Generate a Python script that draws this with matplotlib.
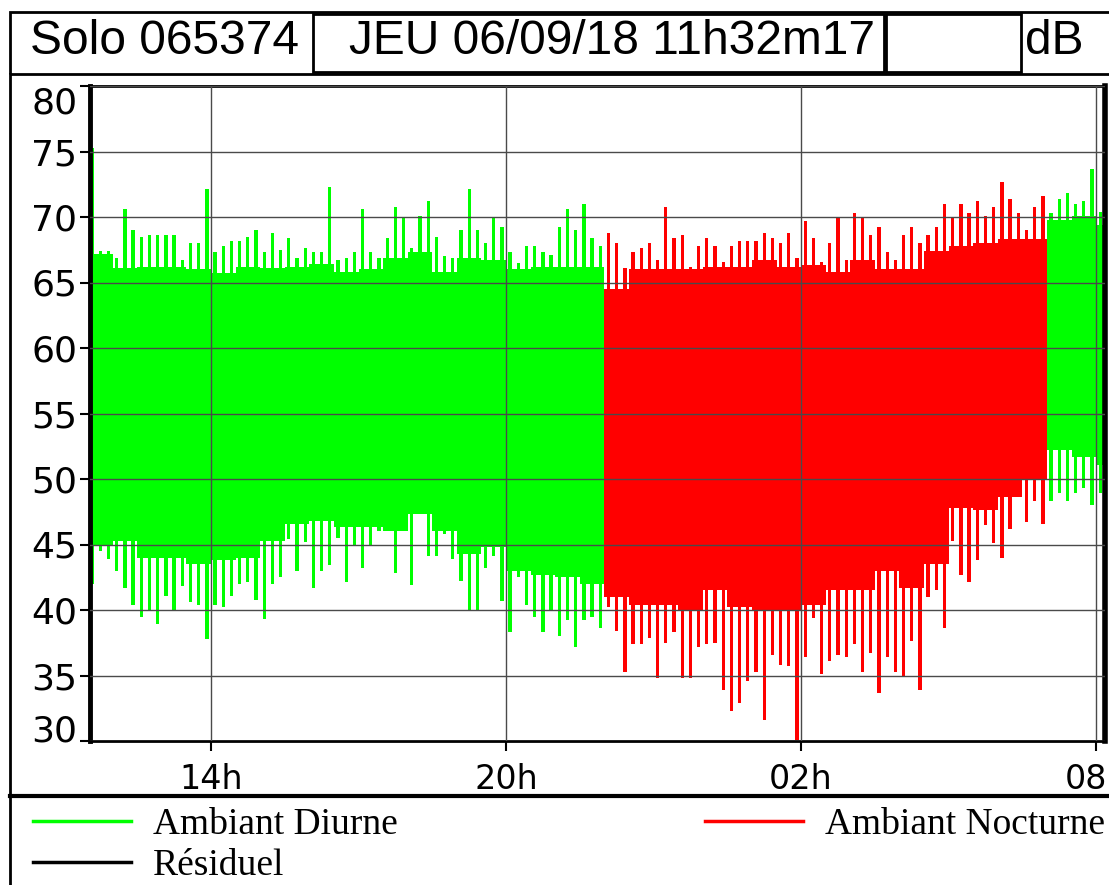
import numpy as np
import matplotlib
matplotlib.use('Agg')
from matplotlib import pyplot as plt
from matplotlib.patches import Rectangle
from matplotlib.lines import Line2D

W, H = 1109, 885

# extreme values (dB) in 10-minute bins starting 11h30
t_start = 11.5
step = 1 / 6
hi = [75.3, 67.4, 67.4, 66.9, 70.6, 69.0, 68.5, 68.6, 68.6, 68.6,
      68.6, 66.7, 68.0, 68.0, 72.1, 67.3, 67.8, 68.2, 68.2, 68.5,
      69.0, 67.3, 68.8, 67.5, 68.4, 66.9, 67.6, 67.3, 67.3, 72.3,
      66.7, 66.9, 67.3, 70.6, 67.3, 66.9, 68.4, 70.8, 70.0, 67.6,
      70.1, 71.2, 68.5, 67.0, 66.9, 69.0, 72.1, 69.0, 68.0, 69.9,
      69.2, 67.3, 66.5, 67.8, 67.8, 67.3, 67.1, 69.2, 70.6, 69.0,
      71.0, 68.4, 67.8, 68.8, 68.0, 66.1, 67.3, 67.6, 68.0, 66.7,
      70.8, 68.4, 68.6, 66.2, 67.8, 68.4, 67.8, 66.6, 67.8, 68.2,
      68.2, 68.2, 68.8, 68.4, 68.0, 68.8, 66.9, 69.7, 68.4, 66.6,
      68.0, 69.9, 66.7, 70.3, 69.9, 68.6, 69.2, 67.3, 66.7, 68.6,
      69.2, 68.0, 68.6, 69.2, 71.0, 69.9, 71.0, 70.3, 71.2, 70.1,
      70.8, 72.7, 71.4, 70.3, 69.0, 70.8, 71.6, 70.3, 71.4, 71.8,
      71.0, 71.2, 73.7, 70.4, 70.3]
lo = [42.0, 44.5, 43.9, 43.0, 41.7, 40.4, 39.5, 39.9, 38.9, 41.1,
      39.9, 41.8, 40.6, 40.4, 37.8, 40.4, 40.2, 41.1, 42.0, 42.1,
      40.8, 39.3, 42.0, 42.5, 45.4, 43.0, 45.2, 41.7, 43.0, 43.4,
      45.5, 42.1, 45.0, 43.2, 45.0, 46.0, 46.3, 42.8, 47.0, 41.9,
      47.5, 44.1, 44.1, 45.8, 43.9, 42.2, 40.0, 40.0, 43.2, 44.1,
      40.7, 38.3, 42.5, 40.4, 39.5, 38.3, 40.0, 38.0, 39.2, 37.2,
      39.2, 39.5, 38.6, 40.2, 38.4, 35.3, 37.4, 37.4, 37.9, 34.8,
      37.5, 38.3, 34.8, 34.8, 37.2, 37.4, 37.5, 33.9, 32.3, 32.9,
      34.6, 35.3, 31.6, 36.6, 35.8, 35.7, 30.1, 36.4, 39.4, 35.1,
      36.1, 36.6, 36.4, 37.4, 35.3, 36.7, 33.7, 36.4, 35.3, 34.9,
      37.6, 33.9, 41.0, 41.5, 38.6, 45.3, 42.7, 42.1, 43.8, 46.5,
      45.1, 44.0, 46.2, 49.1, 46.7, 48.3, 46.6, 48.3, 48.9, 48.3,
      48.9, 49.3, 48.0, 48.9, 50.0]

# usual range (dB) in 30-minute blocks starting 11h30
body_step = 0.5
body_hi = [67.2, 66.1, 66.2, 66.2, 66.0, 65.7, 66.2, 66.1, 66.2, 66.4,
           65.8, 66.0, 66.9, 67.3, 65.8, 66.9, 66.7, 66.0, 66.2, 66.2,
           66.2, 64.5, 66.0, 66.0, 66.0, 66.2, 66.2, 66.7, 66.2, 66.3,
           65.8, 66.7, 66.0, 66.0, 67.4, 67.8, 68.0, 68.3, 68.3, 69.8,
           70.1, 69.4]
body_lo = [45.0, 45.3, 44.0, 44.0, 43.5, 43.8, 44.0, 45.3, 46.6, 46.8,
           46.3, 46.3, 46.0, 47.3, 46.0, 44.3, 44.8, 43.0, 42.7, 42.5,
           42.0, 41.0, 40.4, 40.4, 39.9, 41.5, 40.2, 39.9, 39.9, 40.4,
           41.5, 41.5, 43.0, 41.7, 43.5, 47.8, 47.6, 48.6, 49.9, 52.2,
           51.7, 51.1]

night_start, night_end = 22.0, 31.0
x_ticks = [14, 20, 26, 32]
x_labels = ['14h', '20h', '02h', '08h']
y_ticks = list(range(30, 85, 5))

GREEN = '#00ff00'
RED = '#ff0000'


def fx(x):
    return x / W


def fy(y):
    return 1 - y / H


fig = plt.figure(figsize=(W / 100, H / 100), dpi=100)
ax = fig.add_axes([fx(90), fy(741), fx(1105) - fx(90), fy(86) - fy(741)])

# solid body of the record
b_edges = t_start + body_step * np.arange(len(body_hi) + 1)
bh = np.append(body_hi, body_hi[-1])
bl = np.append(body_lo, body_lo[-1])
j_n = int(round((night_start - t_start) / body_step))
j_e = int(round((night_end - t_start) / body_step))
for a, b, c in [(0, j_n, GREEN), (j_n, j_e, RED), (j_e, len(body_hi), GREEN)]:
    ax.fill_between(b_edges[a:b + 1], bl[a:b + 1], bh[a:b + 1],
                    step='post', color=c, lw=0)

# peaks and dips
centers = t_start + step * (np.arange(len(hi)) + 0.5)
hi = np.array(hi)
lo = np.array(lo)
night = (centers > night_start) & (centers < night_end)
colors = np.where(night, RED, GREEN)
ax.bar(centers, hi - lo, bottom=lo, width=step * 0.4, color=colors, lw=0)

ax.set_xlim(11.54, 32.18)
ax.set_ylim(30, 80)
ax.set_xticks(x_ticks, x_labels)
ax.set_yticks(y_ticks)
ax.set_axisbelow(False)
ax.grid(True, color='#4a4a4a', lw=1)
for s, w in [('left', 3.5), ('right', 4), ('top', 2), ('bottom', 2)]:
    ax.spines[s].set_linewidth(w)
ax.tick_params(axis='y', length=7, width=1.5, pad=2, labelsize=26)
ax.tick_params(axis='x', length=7, width=1.5, pad=9, labelsize=24)
for lab in ax.get_xticklabels() + ax.get_yticklabels():
    lab.set_family('DejaVu Sans')
ylabs = ax.get_yticklabels()
ylabs[0].set_va('baseline')
ylabs[-1].set_va('top')

# header boxes
tf = fig.transFigure
for (x0, y0, x1, y1) in [(10, 12, 1115, 74), (313, 14, 884, 72), (886, 14, 1021, 72)]:
    fig.patches.append(Rectangle((fx(x0), fy(y1)), fx(x1) - fx(x0), fy(y0) - fy(y1),
                                 fill=False, lw=2, ec='black', transform=tf))
head = dict(fontsize=34.5, family='Liberation Sans', va='center', ha='left')
fig.text(fx(30), fy(42), 'Solo 065374', **head)
fig.text(fx(349), fy(42), 'JEU 06/09/18 11h32m17', **head)
fig.text(fx(1025), fy(42), 'dB', **head)

# frame lines
fig.add_artist(Line2D([fx(10), fx(10)], [fy(74), 0], color='black', lw=2, transform=tf))
fig.add_artist(Line2D([fx(10), 1], [fy(796), fy(796)], color='black', lw=3, transform=tf))

handles = [Line2D([], [], color=GREEN, lw=2.5),
           Line2D([], [], color='black', lw=2.5),
           Line2D([], [], color=RED, lw=2.5)]
labels = ['Ambiant Diurne', 'Résiduel', 'Ambiant Nocturne']
fig.legend(handles, labels, loc='upper left', bbox_to_anchor=(fx(33), fy(808)),
           ncol=2, frameon=False, borderpad=0, borderaxespad=0,
           prop={'family': 'Liberation Serif', 'size': 27},
           handlelength=2.6, handletextpad=0.6, columnspacing=8.2,
           labelspacing=0.17)

fig.savefig('out.png', dpi=100)
